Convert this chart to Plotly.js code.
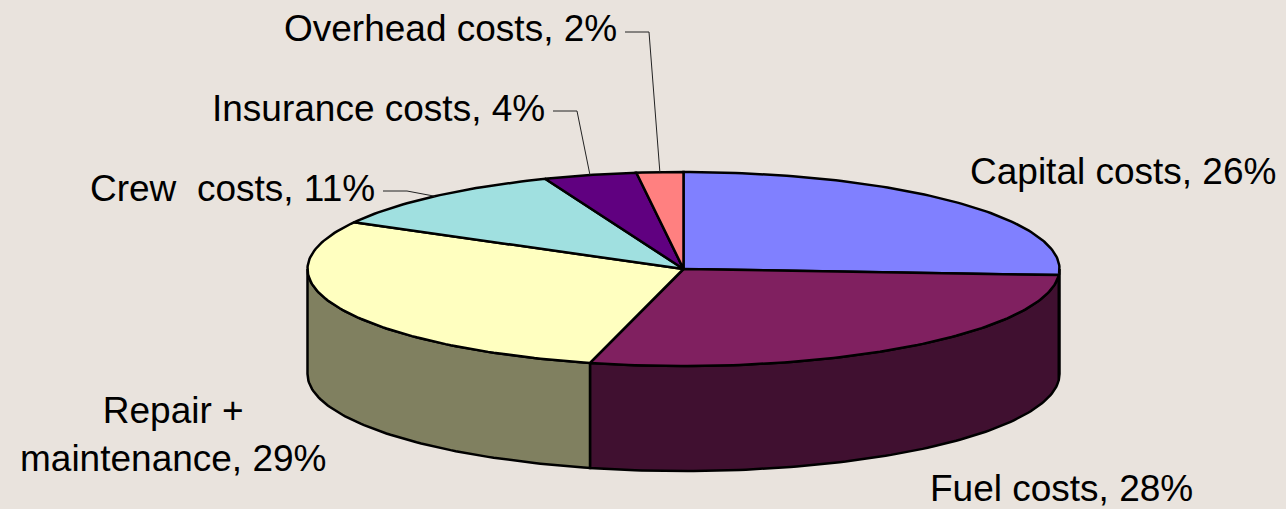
<!DOCTYPE html>
<html>
<head>
<meta charset="utf-8">
<script src="https://cdn.plot.ly/plotly-3.0.1.min.js"></script>
<style>
html,body{margin:0;padding:0;background:#E9E3DD;}
#chart{width:1286px;height:509px;}
</style>
</head>
<body>
<div id="chart"></div>
<script>
// ---- data ----
const categories = ["Capital costs", "Fuel costs", "Repair +<br>maintenance", "Crew\u00A0 costs", "Insurance costs", "Overhead costs"];
const values = [26, 28, 29, 11, 4, 2];
const topColors = ["#8080FF", "#802060", "#FFFFC0", "#A0E0E0", "#600080", "#FF8080"];
const sideColors = ["#404080", "#401030", "#808060", "#507070", "#300040", "#804040"];

// ---- layout config (label placement in page pixels) ----
const labelPlace = [
  {x: 1278, y: 171, anchor: "right", leader: false},
  {x: 1195, y: 488, anchor: "right", leader: false},
  {x: 173,  y: 434, anchor: "center", leader: false},
  {x: 377,  y: 188, anchor: "right", leader: true, ly: 191},
  {x: 547,  y: 108, anchor: "right", leader: true, ly: 111},
  {x: 619,  y: 28,  anchor: "right", leader: true, ly: 32}
];
const geo = {cx: 683.5, cy: 269, rx: 376, ry: 97, depth: 105};

function pt(theta, dy) {
  const r = theta * Math.PI / 180;
  return [geo.cx + geo.rx * Math.sin(r), geo.cy - geo.ry * Math.cos(r) + (dy || 0)];
}

const total = values.reduce((a, b) => a + b, 0);
const angles = [];
let acc = 0;
values.forEach(v => { const a0 = acc / total * 360; acc += v; angles.push([a0, acc / total * 360]); });

const traces = [];
// side walls (front half only: 90..270)
angles.forEach((a, i) => {
  const s = Math.max(a[0], 90), e = Math.min(a[1], 270);
  if (e <= s) return;
  const xs = [], ys = [];
  const n = Math.max(2, Math.ceil(e - s));
  for (let k = 0; k <= n; k++) { const p = pt(s + (e - s) * k / n); xs.push(p[0]); ys.push(p[1]); }
  for (let k = n; k >= 0; k--) { const p = pt(s + (e - s) * k / n, geo.depth); xs.push(p[0]); ys.push(p[1]); }
  xs.push(xs[0]); ys.push(ys[0]);
  traces.push({type: "scatter", mode: "lines", x: xs, y: ys, fill: "toself", fillcolor: sideColors[i],
    line: {color: "#000", width: 2.5}, hoverinfo: "skip", showlegend: false});
});
// top faces
angles.forEach((a, i) => {
  const xs = [geo.cx], ys = [geo.cy];
  const n = Math.max(2, Math.ceil(a[1] - a[0]));
  for (let k = 0; k <= n; k++) { const p = pt(a[0] + (a[1] - a[0]) * k / n); xs.push(p[0]); ys.push(p[1]); }
  xs.push(geo.cx); ys.push(geo.cy);
  traces.push({type: "scatter", mode: "lines", x: xs, y: ys, fill: "toself", fillcolor: topColors[i],
    line: {color: "#000", width: 2.5}, hoverinfo: "skip", showlegend: false, name: categories[i]});
});
// leader lines
angles.forEach((a, i) => {
  const lp = labelPlace[i];
  if (!lp.leader) return;
  const m = pt((a[0] + a[1]) / 2);
  traces.push({type: "scatter", mode: "lines", x: [lp.x + 6, lp.x + 30, m[0]], y: [lp.ly, lp.ly, m[1]],
    line: {color: "#222", width: 1}, hoverinfo: "skip", showlegend: false});
});

const annotations = categories.map((c, i) => ({
  x: labelPlace[i].x, y: labelPlace[i].y, xref: "x", yref: "y",
  xanchor: labelPlace[i].anchor, yanchor: "middle", showarrow: false, align: "center",
  text: c + ", " + values[i] + "%",
  font: {family: "Liberation Sans, Arial, sans-serif", size: 37, color: "#000"}
}));

const layout = {
  width: 1286, height: 509,
  margin: {l: 0, r: 0, t: 0, b: 0},
  paper_bgcolor: "#E9E3DD", plot_bgcolor: "#E9E3DD",
  xaxis: {range: [0, 1286], visible: false, fixedrange: true},
  yaxis: {range: [509, 0], visible: false, fixedrange: true},
  annotations: annotations,
  showlegend: false
};
Plotly.newPlot("chart", traces, layout, {displayModeBar: false, staticPlot: true});
</script>
</body>
</html>
